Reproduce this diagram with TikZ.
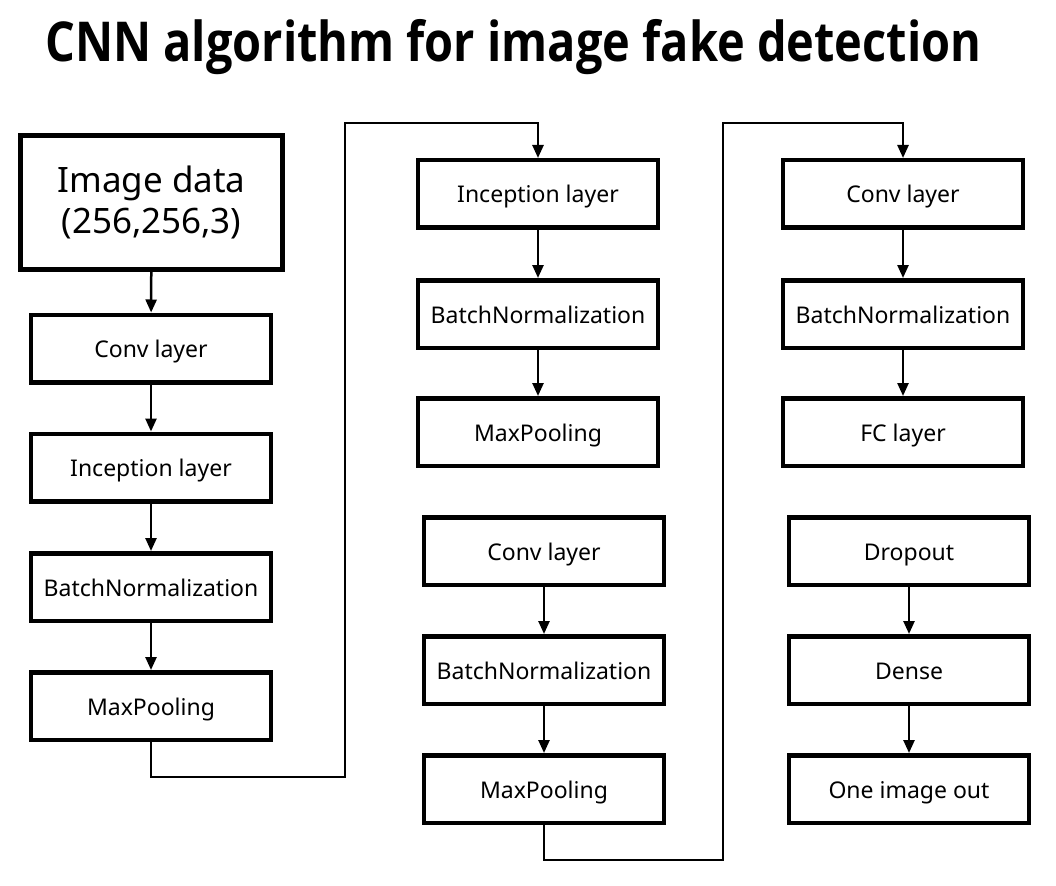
\documentclass[tikz,border=0pt]{standalone}
\usepackage{fontspec}
\setmainfont{Noto Sans}
\newfontfamily\titlefont{Open Sans}
\usetikzlibrary{positioning, arrows.meta}

\begin{document}
\begin{tikzpicture}[x=1pt, y=-1pt,
    framed/.style={draw, line width=4.5pt, inner sep=0pt},
    layer/.style={framed, minimum width=240pt, minimum height=67.5pt, text height=20pt, text depth=2pt, font=\fontsize{23}{27}\selectfont},
    flow/.style={line width=2.5pt, -{Triangle[width=11pt,length=13pt]}}]
    \useasboundingbox (0,0) rectangle (1056,885);
    % title
    \node[anchor=base west, inner sep=0pt, font=\titlefont\bfseries\fontsize{55}{64}\selectfont] (title) at (45,62) {\scalebox{0.853}[1]{CNN algorithm for image fake detection}};
    % first column
    \node[framed, minimum width=262pt, minimum height=134pt, align=center, font=\fontsize{35}{41}\selectfont] (img) at (151.5,202.5) {Image data\\(256,256,3)};
    \node[layer] (conv1) at (151,348.5) {Conv layer};
    \node[layer] (incep1) at (151,467.5) {Inception layer};
    \node[layer] (bn1) at (151,587) {BatchNormalization};
    \node[layer] (pool1) at (151,706) {MaxPooling};
    % second column
    \node[layer] (incep2) at (538,194) {Inception layer};
    \node[layer] (bn2) at (538,314) {BatchNormalization};
    \node[layer] (pool2) at (538,432) {MaxPooling};
    \node[layer] (conv2) at (544,551) {Conv layer};
    \node[layer] (bn3) at (544,670) {BatchNormalization};
    \node[layer] (pool3) at (544,789) {MaxPooling};
    % third column
    \node[layer] (conv3) at (903,194) {Conv layer};
    \node[layer] (bn4) at (903,314) {BatchNormalization};
    \node[layer] (fc) at (903,432) {FC layer};
    \node[layer] (drop) at (909,551) {Dropout};
    \node[layer] (dense) at (909,670) {Dense};
    \node[layer] (out) at (909,789) {One image out};
    % arrows
    \draw[flow] (img) -- (conv1);
    \draw[flow] (conv1) -- (incep1);
    \draw[flow] (incep1) -- (bn1);
    \draw[flow] (bn1) -- (pool1);
    \draw[flow] (incep2) -- (bn2);
    \draw[flow] (bn2) -- (pool2);
    \draw[flow] (conv2) -- (bn3);
    \draw[flow] (bn3) -- (pool3);
    \draw[flow] (conv3) -- (bn4);
    \draw[flow] (bn4) -- (fc);
    \draw[flow] (drop) -- (dense);
    \draw[flow] (dense) -- (out);
    % links between columns
    \coordinate (up1) at (345,123);
    \coordinate (up2) at (723,123);
    \draw[flow] (pool1.south) -- ++(0,35) -| (up1) -| (incep2.north);
    \draw[flow] (pool3.south) -- ++(0,35) -| (up2) -| (conv3.north);
\end{tikzpicture}
\end{document}
